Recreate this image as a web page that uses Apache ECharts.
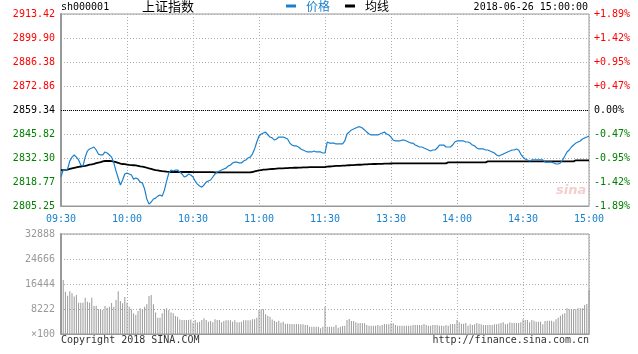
<!DOCTYPE html>
<html><head><meta charset="utf-8">
<script src="https://cdn.jsdelivr.net/npm/echarts@6/dist/echarts.min.js"></script>
<style>html,body{margin:0;padding:0;background:#fff}#c{width:638px;height:354px}</style>
</head><body><div id="c"></div><script>
const timeLabels = ['09:30','10:00','10:30','11:00','11:30','13:30','14:00','14:30','15:00'];
const priceLabels = ['2805.25','2818.77','2832.30','2845.82','2859.34','2872.86','2886.38','2899.90','2913.42'];
const pctLabels = ['-1.89%','-1.42%','-0.95%','-0.47%','0.00%','+0.47%','+0.95%','+1.42%','+1.89%'];
const volLabels = ['×100','8222','16444','24666','32888'];
const PMIN = 2805.25, PMAX = 2913.42, PINT = 13.52125, PREV_CLOSE = 2859.34;
const VMAX = 32888, VINT = 8222;

const price = [
2821.7,2825.5,2825.5,2826.1,2830.6,2832.8,2834.0,2832.8,2831.2,2828.3,
2827.8,2832.8,2836.2,2837.4,2837.9,2838.5,2836.8,2834.5,2834.0,2834.0,
2835.7,2835.1,2834.0,2832.8,2829.5,2825.0,2821.0,2817.1,2819.9,2823.3,
2823.8,2823.3,2822.7,2820.4,2821.0,2820.4,2818.7,2818.2,2814.8,2809.2,
2806.3,2807.5,2809.2,2809.7,2810.8,2811.4,2810.8,2814.2,2819.3,2823.8,
2825.5,2825.0,2825.5,2825.5,2824.4,2823.3,2821.6,2822.1,2823.3,2822.7,
2821.6,2819.3,2817.6,2816.5,2815.9,2817.1,2818.7,2819.3,2819.9,2821.6,
2823.3,2824.4,2825.0,2825.5,2826.1,2826.6,2827.8,2828.3,2829.5,2830.0,
2830.0,2829.5,2829.5,2830.6,2831.2,2832.3,2832.8,2834.5,2837.4,2841.3,
2844.7,2845.8,2846.4,2846.9,2845.3,2844.1,2843.6,2842.4,2843.0,2844.1,
2844.1,2844.1,2843.6,2843.0,2840.7,2839.6,2839.1,2839.1,2838.5,2837.4,
2836.8,2836.2,2835.7,2835.7,2835.7,2836.2,2835.7,2835.7,2835.7,2835.1,
2835.1,2841.3,2840.7,2840.7,2840.7,2840.2,2840.2,2840.2,2840.2,2841.9,
2845.8,2846.9,2848.1,2848.6,2849.2,2849.8,2849.8,2849.2,2848.1,2846.9,
2845.8,2845.3,2845.3,2845.3,2845.3,2845.8,2846.4,2846.9,2845.8,2845.3,
2844.1,2842.4,2841.9,2841.9,2841.9,2842.4,2842.4,2841.9,2841.3,2840.7,
2840.7,2839.6,2839.1,2838.5,2838.5,2837.9,2837.4,2836.8,2836.2,2836.8,
2836.8,2837.9,2839.6,2839.6,2839.6,2838.5,2838.5,2838.5,2839.6,2841.3,
2841.9,2841.9,2841.9,2841.9,2841.3,2841.3,2840.7,2839.6,2839.1,2837.9,
2837.4,2837.4,2837.4,2836.8,2836.8,2836.2,2835.7,2835.1,2834.0,2833.4,
2834.0,2834.5,2835.1,2835.7,2836.2,2836.8,2836.8,2837.4,2836.8,2834.5,
2832.8,2831.7,2831.2,2830.6,2831.2,2831.2,2831.2,2831.2,2831.2,2831.2,
2830.0,2830.0,2830.0,2830.0,2829.5,2828.9,2828.9,2829.5,2831.2,2833.4,
2835.7,2836.8,2838.5,2839.6,2840.7,2841.3,2841.9,2843.0,2843.6,2844.1,2844.7
];

const avgPrice = [
2825.5,2825.5,2825.6,2825.8,2826.1,2826.4,2826.7,2827.0,2827.3,2827.5,
2827.7,2827.9,2828.2,2828.5,2828.7,2829.0,2829.4,2829.7,2830.0,2830.4,
2830.6,2830.6,2830.6,2830.5,2830.3,2830.0,2829.6,2829.1,2828.9,2828.8,
2828.6,2828.4,2828.3,2828.2,2828.1,2827.9,2827.6,2827.4,2827.2,2826.8,
2826.4,2826.1,2825.8,2825.5,2825.3,2825.1,2824.9,2824.8,2824.6,2824.5,
2824.4,2824.4,2824.4,2824.4,2824.4,2824.4,2824.4,2824.4,2824.4,2824.4,
2824.3,2824.3,2824.3,2824.3,2824.3,2824.3,2824.3,2824.3,2824.3,2824.3,
2824.2,2824.2,2824.2,2824.2,2824.2,2824.2,2824.2,2824.2,2824.2,2824.2,
2824.2,2824.2,2824.2,2824.2,2824.2,2824.2,2824.2,2824.4,2824.7,2825.0,
2825.3,2825.5,2825.7,2825.8,2825.9,2826.0,2826.1,2826.2,2826.3,2826.4,
2826.5,2826.5,2826.6,2826.6,2826.7,2826.7,2826.8,2826.8,2826.9,2826.9,
2827.0,2827.0,2827.0,2827.1,2827.1,2827.1,2827.1,2827.2,2827.2,2827.2,
2827.2,2827.4,2827.5,2827.6,2827.7,2827.8,2827.9,2827.9,2828.0,2828.0,
2828.1,2828.2,2828.3,2828.3,2828.4,2828.5,2828.5,2828.6,2828.7,2828.7,
2828.8,2828.8,2828.9,2828.9,2829.0,2829.0,2829.0,2829.1,2829.1,2829.1,
2829.2,2829.3,2829.3,2829.3,2829.3,2829.3,2829.3,2829.3,2829.3,2829.3,
2829.3,2829.3,2829.3,2829.3,2829.3,2829.3,2829.3,2829.3,2829.3,2829.3,
2829.3,2829.3,2829.3,2829.3,2829.3,2829.3,2829.8,2829.8,2829.8,2829.8,
2829.8,2829.8,2829.8,2829.8,2829.8,2829.8,2829.8,2829.8,2829.8,2829.8,
2829.8,2829.8,2829.8,2829.8,2830.4,2830.4,2830.4,2830.4,2830.4,2830.4,
2830.4,2830.4,2830.4,2830.4,2830.4,2830.4,2830.4,2830.4,2830.4,2830.4,
2830.4,2830.4,2830.4,2830.4,2830.4,2830.4,2830.4,2830.4,2830.4,2830.4,
2830.4,2830.4,2830.4,2830.4,2830.4,2830.4,2830.4,2830.4,2830.4,2830.4,
2830.4,2830.4,2830.4,2830.4,2831.0,2831.0,2831.0,2831.0,2831.0,2831.0,2831.0
];

const volume = [
32888,
17800,13900,12600,14100,13400,12300,12800,10300,10300,10300,
11950,10600,10300,11950,9200,9300,8100,8100,7900,9200,
8660,9000,10200,9000,11200,14100,10850,10100,12200,10300,
9000,8100,6800,6250,7560,8440,8100,9000,9750,12500,
12800,9750,7100,5370,5370,6800,8100,8440,7900,7100,
6800,5900,5700,4800,4600,4600,4600,4600,4800,3700,
4600,3800,4050,4600,5150,4600,4050,4270,3840,4820,
4600,4600,3840,4270,4490,4490,4490,4050,4490,3840,
3840,4050,4490,4490,4490,4490,4820,4820,5370,7900,
8100,8100,6470,6030,5700,4800,4380,3950,4380,3700,
4050,3400,3400,3290,3290,3180,3290,3180,3180,3180,
2960,2960,2400,2400,2400,2400,2400,1860,2400,8990,
2400,2400,2400,2400,2960,2080,2400,2630,2740,4600,
4930,4270,4270,3840,3510,3620,3510,3510,2960,2740,
2740,2740,2740,2960,2740,2960,3290,3180,3180,3510,
3510,2960,2740,2740,2740,2740,2740,2740,2740,2960,
2960,2960,2960,2960,3290,2960,2740,2740,2960,2960,
2960,2740,2740,2630,2960,2740,3180,3290,3290,4600,
3840,3400,3400,3620,2740,3180,2960,3180,3620,3400,
3180,2960,2960,2960,2960,2960,3180,3180,3400,3620,
3840,3180,3400,3840,3620,3620,3620,3620,3840,4820,
4600,4600,3840,4600,4380,4050,4050,4050,3180,4270,
4380,4380,4380,4050,4820,5370,6030,6470,6800,8440,
8100,8100,8100,8100,8440,8440,8440,9500,9860,14500
];

const MONO = '"DejaVu Sans Mono", monospace';
const CJK = '"Noto Sans CJK SC", sans-serif';
const BLUE = '#1a80cc';
const GRIDC = '#aaaaaa';
const pIdx = v => Math.round((v - PMIN) / PINT);
const pColor = v => { const k = pIdx(v); return k > 4 ? '#ff0000' : (k === 4 ? '#000000' : '#008000'); };

const chart = echarts.init(document.getElementById('c'), null, {renderer: 'canvas'});
const dotted = {color: GRIDC, type: [1, 2], width: 1};
chart.setOption({
  animation: false,
  backgroundColor: '#ffffff',
  textStyle: {fontFamily: MONO},
  legend: {
    left: 286, top: 0, padding: 0, itemWidth: 10, itemHeight: 3, itemGap: 15, icon: 'rect',
    data: [{name: '价格', textStyle: {color: BLUE}}, {name: '均线', textStyle: {color: '#000'}}],
    textStyle: {fontSize: 12, fontFamily: CJK, padding: [0, 0, 0, 5]}
  },
  grid: [
    {left: 61, top: 14, width: 528, height: 192, show: true, borderColor: '#999', borderWidth: 1},
    {left: 61, top: 234, width: 528, height: 100, show: true, borderColor: '#999', borderWidth: 1}
  ],
  xAxis: [
    {gridIndex: 0, type: 'value', min: 0, max: 240, interval: 30,
     axisLine: {show: true, lineStyle: {color: '#999', width: 1}}, axisTick: {show: false},
     axisLabel: {formatter: v => timeLabels[Math.round(v / 30)], color: BLUE, fontSize: 10, fontFamily: MONO, margin: 8},
     splitLine: {show: true, lineStyle: dotted}},
    {gridIndex: 1, type: 'value', min: 0, max: 240, interval: 30,
     axisLine: {show: true, lineStyle: {color: '#999', width: 1}}, axisTick: {show: false},
     axisLabel: {show: false}, splitLine: {show: true, lineStyle: dotted}}
  ],
  yAxis: [
    {gridIndex: 0, type: 'value', min: PMIN, max: PMAX, interval: PINT,
     axisLine: {show: true, lineStyle: {color: '#999', width: 2}}, axisTick: {show: false},
     axisLabel: {formatter: v => priceLabels[pIdx(v)], color: v => pColor(v), fontSize: 10, fontFamily: MONO, margin: 6},
     splitLine: {show: true, lineStyle: dotted}},
    {gridIndex: 0, type: 'value', position: 'right', min: PMIN, max: PMAX, interval: PINT,
     axisLine: {show: false}, axisTick: {show: false},
     axisLabel: {formatter: v => pctLabels[pIdx(v)], color: v => pColor(v), fontSize: 10, fontFamily: MONO, margin: 5},
     splitLine: {show: false}},
    {gridIndex: 1, type: 'value', min: 0, max: VMAX, interval: VINT,
     axisLine: {show: true, lineStyle: {color: '#999', width: 2}}, axisTick: {show: false},
     axisLabel: {formatter: v => volLabels[Math.round(v / VINT)], color: '#999', fontSize: 10, fontFamily: MONO, margin: 6},
     splitLine: {show: true, lineStyle: dotted}}
  ],
  series: [
    {name: '价格', type: 'line', xAxisIndex: 0, yAxisIndex: 0, showSymbol: false, symbol: 'none',
     data: price.map((v, i) => [i, v]), lineStyle: {color: BLUE, width: 1.2}, itemStyle: {color: BLUE},
     z: 4, silent: true,
     markLine: {silent: true, symbol: ['none', 'none'], label: {show: false},
       lineStyle: {color: '#000', type: [1, 1], width: 1}, data: [{yAxis: PREV_CLOSE}]}},
    {name: '均线', type: 'line', xAxisIndex: 0, yAxisIndex: 0, showSymbol: false, symbol: 'none',
     data: avgPrice.map((v, i) => [i, v]), lineStyle: {color: '#000', width: 1.8}, itemStyle: {color: '#000'},
     z: 3, silent: true},
    {name: '成交量', type: 'bar', xAxisIndex: 1, yAxisIndex: 2, barWidth: 1,
     data: volume.map((v, i) => [i, v]), itemStyle: {color: '#999'}, silent: true}
  ],
  graphic: [
    {type: 'text', left: 61, top: 2, style: {text: 'sh000001', font: '10px ' + MONO, fill: '#000'}},
    {type: 'text', left: 142, top: 0, style: {text: '上证指数', font: '13px ' + CJK, fill: '#000'}},
    {type: 'text', right: 50, top: 2, style: {text: '2018-06-26 15:00:00', font: '10px ' + MONO, fill: '#000'}},
    {type: 'text', left: 61, top: 335, style: {text: 'Copyright 2018 SINA.COM', font: '10px ' + MONO, fill: '#333'}},
    {type: 'text', right: 49, top: 335, style: {text: 'http://finance.sina.com.cn', font: '10px ' + MONO, fill: '#333'}},
    {type: 'text', left: 556, top: 184, z: 1, style: {text: 'sina', font: 'italic bold 13px "DejaVu Sans", sans-serif', fill: 'rgba(220,90,90,0.3)'}}
  ]
});
</script></body></html>
